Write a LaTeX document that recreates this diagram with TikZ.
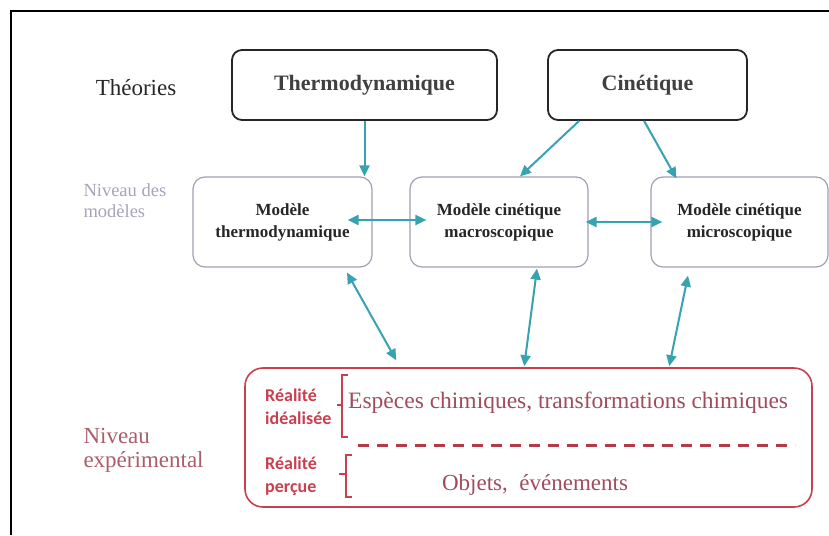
\documentclass[tikz,border=0pt]{standalone}
\usepackage{fontspec}
\setmainfont{Liberation Serif}
\newfontfamily\calfont{Carlito}
\usetikzlibrary{arrows.meta,calc}
\definecolor{teal1}{HTML}{36A2B2}
\definecolor{modgray}{HTML}{A39DB3}
\definecolor{expred}{HTML}{C8404F}
\definecolor{expbrown}{HTML}{A04C5C}
\definecolor{lbl}{HTML}{A9A2BA}
\tikzset{
  theory/.style={draw=black!85, line width=1.8pt, rounded corners=10pt, font=\bfseries\fontsize{22}{24}\selectfont, text=black!75},
  model/.style={draw=modgray, line width=1.2pt, rounded corners=12pt, align=center, font=\bfseries\fontsize{17}{22}\selectfont, text=black!85},
  tip/.tip={Triangle[length=11pt,width=10pt]},
  conn/.style={draw=teal1, line width=2pt, -tip},
  dconn/.style={draw=teal1, line width=2pt, tip-tip},
  brack/.style={draw=expred, line width=1.5pt},
  real/.style={align=left, text=expred, font=\calfont\bfseries\fontsize{18}{23}\selectfont, inner sep=0pt},
}
\begin{document}
\begin{tikzpicture}[x=1pt,y=-1pt]
\useasboundingbox (0,0) rectangle (829,535);
\draw[line width=1.5pt, black] (11,535) -- (11,11) -- (829,11);

% theories
\node[font=\fontsize{23}{24}\selectfont, text=black!85] (theo) at (136,88) {Théories};
\node[theory, minimum width=265pt, minimum height=70pt] (th) at (364.5,85) {Thermodynamique};
\node[theory, minimum width=199pt, minimum height=70pt] (ci) at (647.5,85) {Cinétique};

% models
\node[font=\fontsize{18.5}{21}\selectfont, text=lbl, align=left, anchor=west] (nm) at (80,201) {Niveau des\\modèles};
\node[model, minimum width=179pt, minimum height=90pt] (mt) at (282.5,222) {Modèle\\thermodynamique};
\node[model, minimum width=178pt, minimum height=90pt] (mma) at (499,222) {Modèle cinétique\\macroscopique};
\node[model, minimum width=177pt, minimum height=90pt] (mmi) at (739.5,222) {Modèle cinétique\\microscopique};

% experimental
\node[font=\fontsize{23}{24}\selectfont, text=expbrown!90, align=left, anchor=west] (ne) at (80,450) {Niveau\\expérimental};
\node[draw=expred, line width=1.6pt, rounded corners=18pt, minimum width=567pt, minimum height=139pt] (exp) at (528.5,437.5) {};
\node[real, anchor=west] (ri) at (265,407) {Réalité\\idéalisée};
\node[real, anchor=west] (rp) at (265,476) {Réalité\\perçue};
\node[font=\fontsize{23.5}{24}\selectfont, text=expbrown, anchor=base west, inner sep=0pt] (esp) at (348,408) {Espèces chimiques, transformations chimiques};
\node[font=\fontsize{23}{24}\selectfont, text=expbrown, anchor=base, inner sep=0pt] (obj) at (535,490) {Objets,\ \ événements};

% brackets
\draw[brack] (348,375) -- (342,375) -- (342,437) -- (348,437);
\draw[brack] (342,405) -- (337,405);
\draw[brack] (352,455) -- (346,455) -- (346,497) -- (352,497);
\draw[brack] (346,474) -- (339,474);
\draw[draw=expred!90!black, line width=3pt, dash pattern=on 11pt off 8pt] (358,445) -- (795,445);

% connectors
\draw[conn] (th.south) -- (th.south |- mt.north);
\draw[conn] ($(ci.south west)+(32,0)$) -- ($(mma.north)+(21,0)$);
\draw[conn] ($(ci.south west)+(97,0)$) -- ($(mmi.north west)+(26,2)$);
\draw[dconn] ($(mt.east)+(-25,-2)$) -- ($(mma.west)+(17,-2)$);
\draw[dconn] ($(mma.east)+(-3,0)$) -- ($(mmi.west)+(12,0)$);
\draw[dconn] ($(mt.south)+(64.5,5)$) -- ($(exp.north west)+(152,-7)$);
\draw[dconn] ($(mma.south)+(38,1)$) -- ($(exp.north west)+(280,-1)$);
\draw[dconn] ($(mmi.south)+(-51.5,8)$) -- ($(exp.north west)+(425,-1)$);
\end{tikzpicture}
\end{document}
